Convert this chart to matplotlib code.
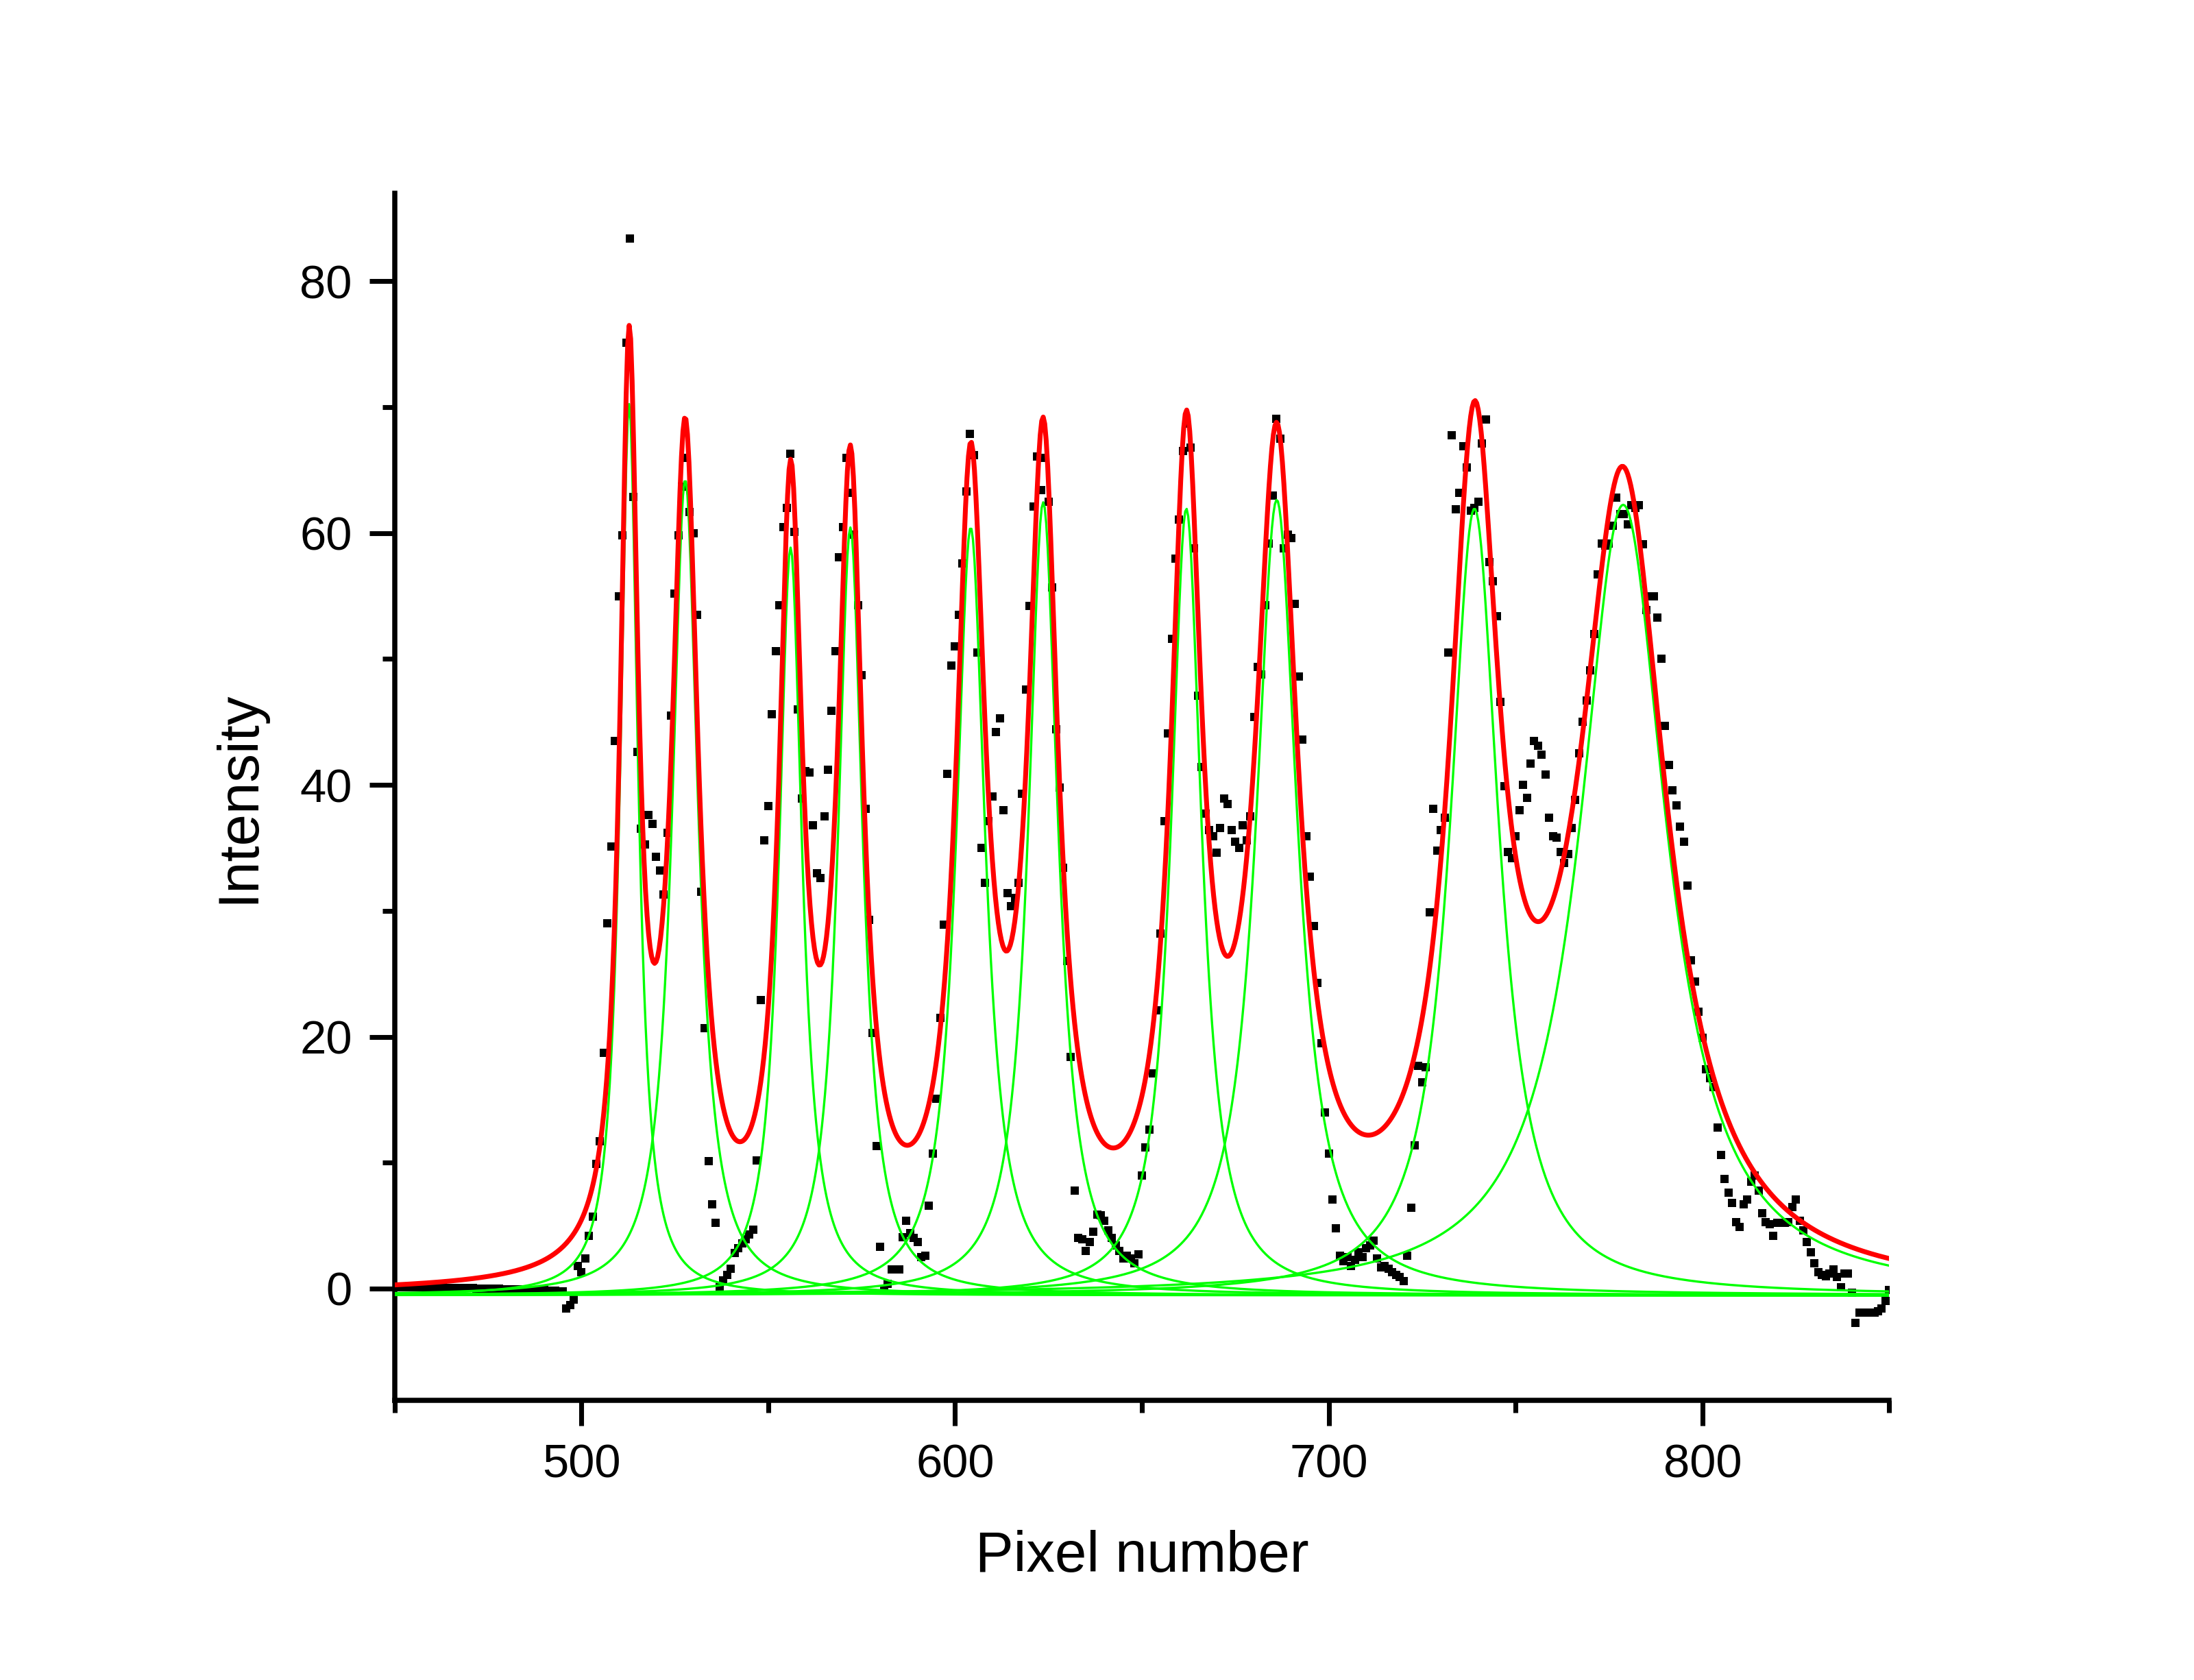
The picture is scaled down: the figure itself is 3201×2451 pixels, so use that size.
import numpy as np
import matplotlib
matplotlib.use("Agg")
import matplotlib.pyplot as plt
from matplotlib.ticker import MultipleLocator

plt.rcParams['font.family'] = ['Liberation Sans', 'DejaVu Sans']

# ---------------- data ----------------
pixel_start = 450
intensity = [
    # 450-459
    0.10, 0.10, 0.10, 0.12, 0.10, 0.10, 0.08, 0.10, 0.10, 0.08,
    # 460-469
    0.08, 0.08, 0.06, 0.08, 0.06, 0.06, 0.05, 0.05, 0.04, 0.04,
    # 470-479
    0.04, 0.03, 0.02, 0.02, 0.00, 0.00, 0.00, -0.02, -0.02, -0.04,
    # 480-489
    -0.04, -0.05, -0.06, -0.06, -0.08, -0.08, -0.10, -0.10, -0.12, -0.12,
    # 490-499
    -0.14, -0.15, -0.16, -0.18, -0.20, -0.22, -1.6, -1.3, -0.9, 1.8,
    # 500-509
    1.3, 2.4, 4.2, 5.7, 9.9, 11.7, 18.7, 29.0, 35.1, 43.5,
    # 510-519
    55.0, 59.8, 75.1, 83.4, 62.9, 42.6, 36.5, 35.3, 37.6, 36.9,
    # 520-529
    34.3, 33.2, 31.3, 36.2, 45.5, 55.2, 59.8, 63.7, 66.0, 61.7,
    # 530-539
    60.0, 53.5, 31.5, 20.7, 10.1, 6.7, 5.2, 0.1, 0.65, 1.1,
    # 540-549
    1.6, 2.8, 3.2, 3.6, 3.9, 4.3, 4.7, 10.2, 22.9, 35.6,
    # 550-559
    38.3, 45.6, 50.6, 54.3, 60.5, 62.0, 66.3, 60.1, 46.0, 38.9,
    # 560-569
    41.1, 41.0, 36.8, 33.0, 32.6, 37.5, 41.2, 45.9, 50.6, 58.1,
    # 570-579
    60.5, 66.0, 63.2, 59.9, 54.3, 48.7, 38.1, 29.3, 20.3, 11.3,
    # 580-589
    3.3, -0.1, 0.4, 1.5, 1.5, 1.5, 4.1, 5.4, 4.4, 4.0,
    # 590-599
    3.7, 2.5, 2.6, 6.6, 10.7, 15.1, 21.5, 28.9, 40.9, 49.5,
    # 600-609
    51.0, 53.5, 57.6, 63.3, 67.9, 66.2, 50.5, 35.0, 32.2, 37.1,
    # 610-619
    39.1, 44.2, 45.3, 38.0, 31.4, 30.4, 31.0, 32.2, 39.3, 47.6,
    # 620-629
    54.2, 62.1, 66.1, 63.4, 66.0, 62.5, 55.7, 44.4, 39.8, 33.4,
    # 630-639
    26.0, 18.4, 7.8, 4.0, 3.9, 3.0, 3.7, 4.5, 5.9, 5.8,
    # 640-649
    5.4, 4.6, 4.0, 3.4, 3.0, 2.4, 2.6, 2.4, 2.0, 2.7,
    # 650-659
    9.0, 11.2, 12.6, 17.1, 22.1, 28.2, 37.1, 44.1, 51.6, 58.0,
    # 660-669
    61.1, 66.5, 68.7, 66.8, 58.8, 47.1, 41.4, 37.7, 36.4, 35.9,
    # 670-679
    34.6, 36.6, 38.9, 38.5, 36.4, 35.5, 35.0, 36.8, 35.6, 37.5,
    # 680-689
    45.4, 49.4, 48.8, 54.3, 59.2, 63.0, 69.1, 67.5, 58.8, 59.9,
    # 690-699
    59.6, 54.4, 48.6, 43.6, 35.9, 32.7, 28.8, 24.3, 19.5, 14.0,
    # 700-709
    10.7, 7.1, 4.8, 2.6, 2.2, 2.5, 1.8, 2.3, 2.9, 2.5,
    # 710-719
    3.2, 3.4, 3.8, 2.4, 1.7, 1.8, 1.6, 1.3, 1.1, 0.9,
    # 720-729
    0.6, 2.6, 6.4, 11.4, 17.7, 16.4, 17.6, 29.9, 38.1, 34.8,
    # 730-739
    36.4, 37.4, 50.5, 67.8, 61.9, 63.2, 66.9, 65.2, 61.8, 62.0,
    # 740-749
    62.5, 67.1, 69.0, 57.7, 56.2, 53.4, 46.6, 39.9, 34.7, 34.2,
    # 750-759
    35.9, 38.0, 40.0, 39.0, 41.7, 43.5, 43.1, 42.4, 40.8, 37.4,
    # 760-769
    35.9, 35.8, 34.7, 33.8, 34.5, 36.6, 38.8, 42.5, 45.0, 46.7,
    # 770-779
    49.1, 52.0, 56.7, 59.2, 59.0, 59.2, 60.6, 62.8, 61.5, 61.5,
    # 780-789
    60.7, 62.2, 62.0, 62.2, 59.1, 53.9, 55.0, 55.0, 53.3, 50.0,
    # 790-799
    44.7, 41.6, 39.6, 38.4, 36.7, 35.5, 32.0, 26.1, 24.4, 22.0,
    # 800-809
    19.9, 17.4, 16.7, 16.0, 12.8, 10.6, 8.7, 7.6, 6.8, 5.3,
    # 810-819
    4.9, 6.7, 7.1, 8.5, 9.0, 7.8, 6.0, 5.3, 5.1, 4.2,
    # 820-829
    5.2, 5.2, 5.2, 5.3, 6.5, 7.1, 5.4, 4.6, 3.7, 2.9,
    # 830-839
    2.0, 1.3, 1.1, 1.0, 1.2, 1.5, 0.9, 0.1, 1.2, 1.2,
    # 840-850
    -0.35, -2.75, -1.9, -1.9, -1.9, -1.9, -1.9, -1.8, -1.6, -1.0, -0.1,
]

# Lorentzian fit components
peak_centers = [512.8, 527.8, 556.0, 572.0, 604.2, 623.6, 661.9, 686.1, 739.0, 778.8]
peak_heights = [70.8, 64.8, 59.4, 61.0, 61.0, 63.0, 62.5, 63.2, 62.5, 62.8]
peak_fwhm = [5.8, 8.5, 7.5, 8.1, 9.5, 9.7, 10.0, 13.5, 16.0, 28.2]
fit_baseline = -0.55

x_ticks_major = [500, 600, 700, 800]
y_ticks_major = [0, 20, 40, 60, 80]

# ---------------- figure ----------------
pixels = np.arange(pixel_start, pixel_start + len(intensity))
xfit = np.linspace(450, 850, 1001)


def lorentz(xv, c, a, w):
    return a / (1.0 + ((xv - c) / (w / 2.0)) ** 2)


fig = plt.figure(figsize=(3201 / 300, 2451 / 300), dpi=300)
ax = fig.add_axes([0.1798, 0.1663, 0.6813, 0.7187])

ax.plot(pixels, intensity, linestyle='none', marker='s', markersize=3.0,
        markeredgewidth=0, color='black', zorder=2)

total = np.full_like(xfit, fit_baseline)
for c, a, w in zip(peak_centers, peak_heights, peak_fwhm):
    comp = lorentz(xfit, c, a, w)
    total += comp
    ax.plot(xfit, fit_baseline + comp, color='#00FF00', linewidth=0.8, zorder=3)
ax.plot(xfit, total, color='#FF0000', linewidth=1.7, zorder=4)

ax.set_xlim(450, 850)
ax.set_ylim(-8.9, 87.0)

for side in ['top', 'right']:
    ax.spines[side].set_visible(False)
for side in ['left', 'bottom']:
    ax.spines[side].set_linewidth(1.8)

ax.set_xticks(x_ticks_major)
ax.set_yticks(y_ticks_major)
ax.xaxis.set_minor_locator(MultipleLocator(50))
ax.yaxis.set_minor_locator(MultipleLocator(10))
ax.tick_params(which='major', direction='out', length=8.8, width=1.7,
               labelsize=16.5, pad=6)
ax.tick_params(which='minor', direction='out', length=4.4, width=1.7)

ax.set_xlabel('Pixel number', fontsize=20, labelpad=15)
ax.set_ylabel('Intensity', fontsize=20, labelpad=12)

fig.savefig('out.png', dpi=300, facecolor='white')
